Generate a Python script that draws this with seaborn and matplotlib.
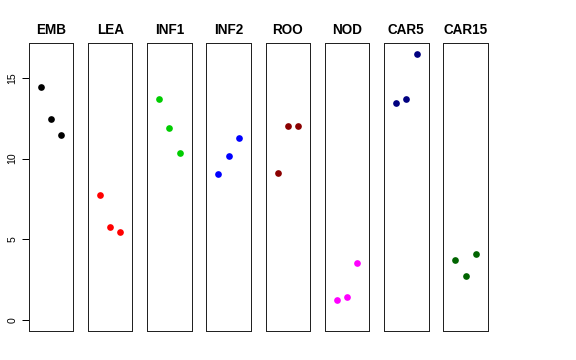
import pandas as pd
import matplotlib
matplotlib.use('Agg')
import matplotlib.pyplot as plt
import seaborn as sns

# данные по тканям (три точки на панель)
tissues = ['EMB', 'LEA', 'INF1', 'INF2', 'ROO', 'NOD', 'CAR5', 'CAR15']
colors = ['black', 'red', '#00CD00', 'blue', '#8B0000', 'magenta', '#000080', '#006400']
rep = [1, 2, 3]
emb = [14.45, 12.47, 11.46]
lea = [7.78, 5.74, 5.45]
inf1 = [13.68, 11.87, 10.32]
inf2 = [9.06, 10.17, 11.29]
roo = [9.08, 12.01, 12.01]
nod = [1.26, 1.44, 3.57]
car5 = [13.42, 13.70, 16.49]
car15 = [3.72, 2.74, 4.11]

values = [emb, lea, inf1, inf2, roo, nod, car5, car15]
rows = []
for t, vals in zip(tissues, values):
    for r, v in zip(rep, vals):
        rows.append({'tissue': t, 'rep': r, 'value': v})
data = pd.DataFrame(rows)

sns.set_style('ticks')
plt.rcParams['font.family'] = ['Liberation Sans', 'DejaVu Sans']
plt.rcParams.update({
    'text.color': 'black',
    'ytick.color': 'black',
    'ytick.labelcolor': 'black',
    'ytick.left': True,
    'ytick.direction': 'out',
    'ytick.major.size': 7,
    'ytick.major.width': 1,
    'ytick.major.pad': 4,
    'ytick.labelsize': 10.5,
})

fig, axes = plt.subplots(1, 8, figsize=(8, 5), dpi=72)
fig.subplots_adjust(left=0.0498, right=0.847, top=0.8806, bottom=0.0806, wspace=0.33)

ymax = data['value'].max()
for i, (ax, t, c) in enumerate(zip(axes, tissues, colors)):
    sub = data[data['tissue'] == t]
    sns.scatterplot(data=sub, x='rep', y='value', color=c, s=45, linewidth=0, ax=ax)
    ax.set_xlim(-0.16, 4.16)
    ax.set_ylim(0 - 0.04 * ymax, ymax * 1.04)
    ax.set_title(t, fontsize=13.5, fontweight='bold', pad=8.5, color='black')
    ax.set_xlabel('')
    ax.set_ylabel('')
    ax.set_xticks([])
    for sp in ax.spines.values():
        sp.set_visible(True)
        sp.set_color('#222222')
        sp.set_linewidth(1)
    if i == 0:
        ax.set_yticks([0, 5, 10, 15])
        for lab in ax.get_yticklabels():
            lab.set_rotation(90)
            lab.set_va('center')
    else:
        ax.set_yticks([])

fig.savefig('out.png', dpi=72)
